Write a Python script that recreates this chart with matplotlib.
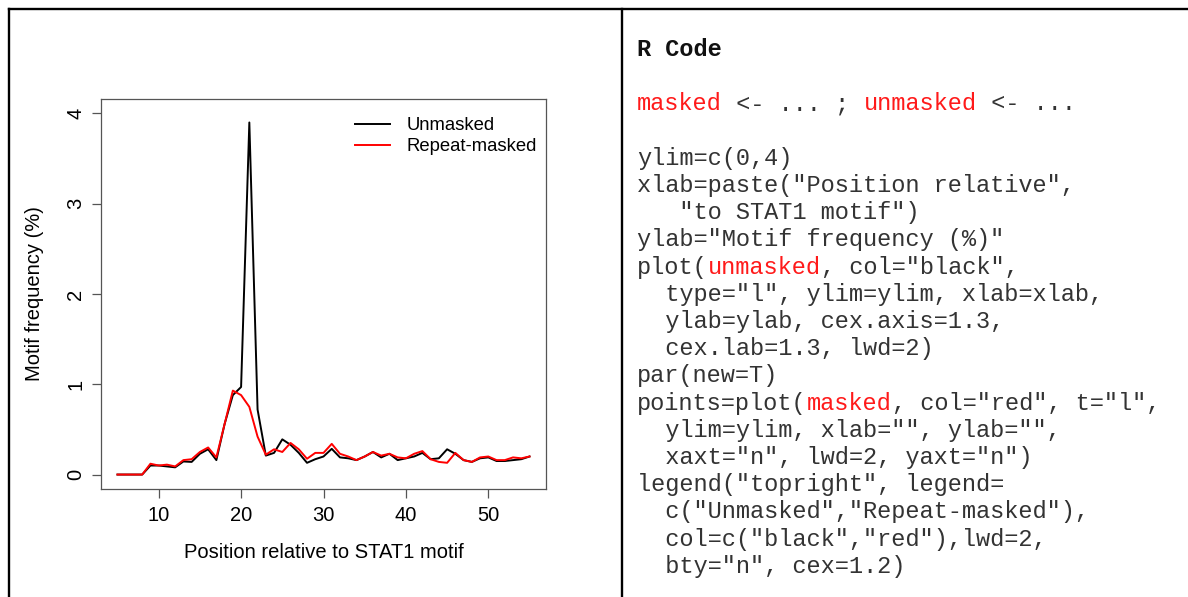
import numpy as np
import matplotlib
matplotlib.use("Agg")
import matplotlib.pyplot as plt

# motif frequency (%) by position, positions 5..55
position = list(range(5, 56))
unmasked = [0, 0, 0, 0, 0.10, 0.10, 0.09, 0.08, 0.145, 0.14,
            0.23, 0.28, 0.16, 0.56, 0.88, 0.97, 3.90, 0.72, 0.21, 0.24,
            0.39, 0.33, 0.24, 0.13, 0.17, 0.20, 0.285, 0.19, 0.18, 0.16,
            0.20, 0.25, 0.19, 0.23, 0.16, 0.18, 0.20, 0.24, 0.17, 0.18,
            0.28, 0.23, 0.16, 0.14, 0.18, 0.19, 0.15, 0.15, 0.16, 0.17,
            0.20]
masked = [0, 0, 0, 0, 0.12, 0.10, 0.11, 0.09, 0.16, 0.17,
          0.25, 0.30, 0.19, 0.56, 0.93, 0.88, 0.75, 0.42, 0.22, 0.28,
          0.25, 0.35, 0.28, 0.175, 0.24, 0.24, 0.34, 0.23, 0.20, 0.16,
          0.20, 0.25, 0.21, 0.23, 0.19, 0.18, 0.23, 0.26, 0.17, 0.14,
          0.13, 0.24, 0.16, 0.14, 0.19, 0.20, 0.16, 0.16, 0.19, 0.18,
          0.20]
series_labels = ["Unmasked", "Repeat-masked"]
x_ticks = [10, 20, 30, 40, 50]
y_ticks = [0, 1, 2, 3, 4]

# R snippet shown on the right: each line is a list of (text, colour)
K = "#333333"
R = "#ff1a1a"
code_lines = [
    [],
    [("masked", R), (" <- ... ; ", K), ("unmasked", R), (" <- ...", K)],
    [],
    [("ylim=c(0,4)", K)],
    [('xlab=paste("Position relative",', K)],
    [('   "to STAT1 motif")', K)],
    [('ylab="Motif frequency (%)"', K)],
    [("plot(", K), ("unmasked", R), (', col="black",', K)],
    [('  type="l", ylim=ylim, xlab=xlab,', K)],
    [("  ylab=ylab, cex.axis=1.3,", K)],
    [("  cex.lab=1.3, lwd=2)", K)],
    [("par(new=T)", K)],
    [("points=plot(", K), ("masked", R), (', col="red", t="l",', K)],
    [('  ylim=ylim, xlab="", ylab="",', K)],
    [('  xaxt="n", lwd=2, yaxt="n")', K)],
    [('legend("topright", legend=', K)],
    [('  c("Unmasked","Repeat-masked"),', K)],
    [('  col=c("black","red"),lwd=2,', K)],
    [('  bty="n", cex=1.2)', K)],
]

W, H = 1188, 597
fig = plt.figure(figsize=(W / 100, H / 100), dpi=100)
fig.patch.set_facecolor("white")

def px(x, y):
    return x / W, 1 - y / H

# frame: top rule, left rule and the divider between the panels
frame_kw = dict(color="black", lw=1.7, transform=fig.transFigure)
fig.add_artist(plt.Line2D([8.5 / W, 1], [1 - 8.5 / H] * 2, **frame_kw))
fig.add_artist(plt.Line2D([8.5 / W] * 2, [0, 1 - 8.5 / H], **frame_kw))
fig.add_artist(plt.Line2D([622 / W] * 2, [0, 1 - 8.5 / H], **frame_kw))

# left panel: the plot
sans = "Liberation Sans"
ax = fig.add_axes([101 / W, 1 - 489 / H, 445 / W, 390 / H])
ax.plot(position, unmasked, color="black", lw=1.4, label=series_labels[0])
ax.plot(position, masked, color="red", lw=1.4, label=series_labels[1])
ax.set_xlim(3, 57)
ax.set_ylim(-0.16, 4.16)
ax.set_xticks(x_ticks)
ax.set_yticks(y_ticks)
for s in ax.spines.values():
    s.set_color("#555555")
    s.set_linewidth(0.9)
ax.tick_params(length=6.5, width=0.9, color="#555555", labelsize=14.5,
               labelcolor="black", pad=6)
ax.tick_params(axis="y", labelrotation=90, pad=5)
for lab in ax.get_xticklabels() + ax.get_yticklabels():
    lab.set_family(sans)
for lab in ax.get_yticklabels():
    lab.set_va("center")

ax.set_xlabel("Position relative to STAT1 motif", fontsize=14.5,
              family=sans, va="center")
ax.xaxis.set_label_coords(0.5, (489 - 553) / 390)
ax.set_ylabel("Motif frequency (%)", fontsize=14.5, family=sans,
              va="center")
ax.yaxis.set_label_coords((35 - 101) / 445, 0.5)

ax.legend(loc="upper left", bbox_to_anchor=((355 - 101) / 445, (489 - 117) / 390),
          frameon=False, prop={"family": sans, "size": 13.3},
          handlelength=1.9, handletextpad=0.9, labelspacing=0.22,
          borderpad=0, borderaxespad=0)

# right panel: the R code
mono = "Liberation Mono"
fs = 17
cw = fs * 100 / 72 * 0.6
x0, base0, step = 637, 56, 27.2

fig.text(*px(x0, base0), "R Code", family=mono, weight="bold", fontsize=fs,
         color="#111111", va="baseline")
for i, segs in enumerate(code_lines, start=1):
    y = base0 + step * i
    n = 0
    for txt, col in segs:
        fig.text(*px(x0 + n * cw, y), txt, family=mono, fontsize=fs,
                 color=col, va="baseline")
        n += len(txt)

fig.savefig("out.png", dpi=100)
